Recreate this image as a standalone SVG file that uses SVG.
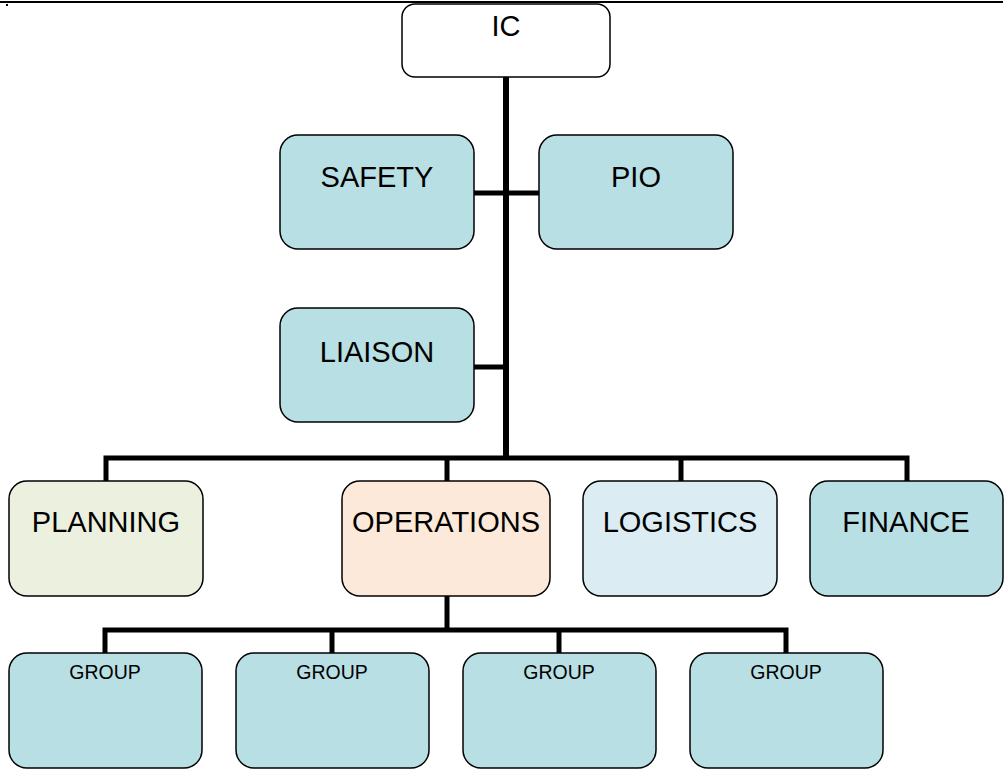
<svg xmlns="http://www.w3.org/2000/svg" width="1005" height="776" viewBox="0 0 1005 776">
<style>
.box{stroke:#000;stroke-width:1.5;}
.t{font-family:"Liberation Sans",Arial,sans-serif;font-size:29px;fill:#000;text-anchor:middle;}
.s{font-family:"Liberation Sans",Arial,sans-serif;font-size:19.5px;fill:#000;text-anchor:middle;}
.c{stroke:#000;fill:none;stroke-linecap:butt;}
.teal{fill:#b8dfe3;}
</style>
<rect width="1005" height="776" fill="#fff"/>
<line x1="0" y1="2" x2="1003" y2="2" stroke="#000" stroke-width="2"/>
<rect x="6" y="4" width="2" height="2" fill="#000"/>
<g id="connectors">
<line class="c" x1="506" y1="77" x2="506" y2="460" stroke-width="6"/>
<line class="c" x1="474" y1="193" x2="539" y2="193" stroke-width="5"/>
<line class="c" x1="474" y1="367" x2="506" y2="367" stroke-width="5"/>
<polyline class="c" points="106,481 106,458 907,458 907,481" stroke-width="5"/>
<line class="c" x1="447" y1="458" x2="447" y2="481" stroke-width="5"/>
<line class="c" x1="681" y1="458" x2="681" y2="481" stroke-width="5"/>
<line class="c" x1="447" y1="596" x2="447" y2="630" stroke-width="5"/>
<polyline class="c" points="105,653 105,630 786,630 786,653" stroke-width="5"/>
<line class="c" x1="332" y1="630" x2="332" y2="653" stroke-width="5"/>
<line class="c" x1="559" y1="630" x2="559" y2="653" stroke-width="5"/>
</g>
<g id="ic"><rect class="box" x="402" y="4" width="208" height="73" rx="13" fill="#fff"/><text class="t" x="506" y="36">IC</text></g>
<g id="safety"><rect class="box teal" x="280" y="135" width="194" height="114" rx="18"/><text class="t" x="377" y="187">SAFETY</text></g>
<g id="pio"><rect class="box teal" x="539" y="135" width="194" height="114" rx="18"/><text class="t" x="636" y="187">PIO</text></g>
<g id="liaison"><rect class="box teal" x="280" y="308" width="194" height="114" rx="18"/><text class="t" x="377" y="362">LIAISON</text></g>
<g id="planning"><rect class="box" x="9" y="481" width="194" height="115" rx="18" fill="#ebf1de"/><text class="t" x="106" y="532">PLANNING</text></g>
<g id="operations"><rect class="box" x="342" y="481" width="208" height="115" rx="18" fill="#fce9da"/><text class="t" x="446" y="532">OPERATIONS</text></g>
<g id="logistics"><rect class="box" x="583" y="481" width="194" height="115" rx="18" fill="#dbedf3"/><text class="t" x="680" y="532">LOGISTICS</text></g>
<g id="finance"><rect class="box teal" x="810" y="481" width="193" height="115" rx="18"/><text class="t" x="906" y="532">FINANCE</text></g>
<g id="group1"><rect class="box teal" x="9" y="653" width="193" height="115" rx="18"/><text class="s" x="105" y="679">GROUP</text></g>
<g id="group2"><rect class="box teal" x="236" y="653" width="193" height="115" rx="18"/><text class="s" x="332" y="679">GROUP</text></g>
<g id="group3"><rect class="box teal" x="463" y="653" width="193" height="115" rx="18"/><text class="s" x="559" y="679">GROUP</text></g>
<g id="group4"><rect class="box teal" x="690" y="653" width="193" height="115" rx="18"/><text class="s" x="786" y="679">GROUP</text></g>
</svg>
